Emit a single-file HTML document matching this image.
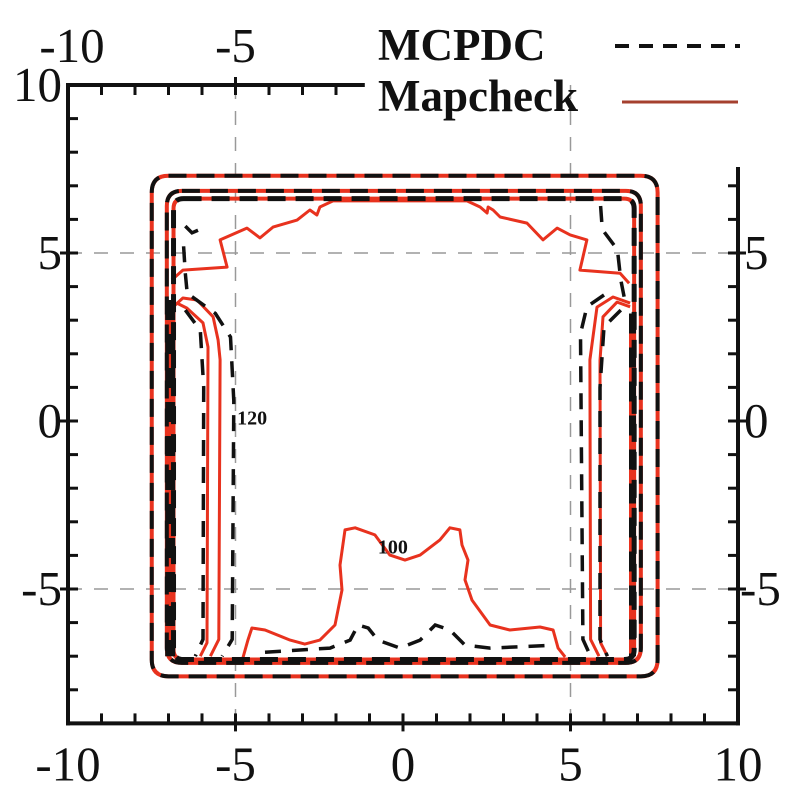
<!DOCTYPE html>
<html><head><meta charset="utf-8"><style>
html,body{margin:0;padding:0;background:#fff;}
svg{display:block;}
text{font-family:"Liberation Serif",serif;fill:#111;}
</style></head><body>
<svg id="chart" width="800" height="800" viewBox="0 0 800 800" xmlns="http://www.w3.org/2000/svg">
<g id="grid"></g><g id="series"></g><g id="axes"></g><g id="labels"></g>
<g>
<text x="378" y="60" font-size="45" font-weight="bold">MCPDC</text>
<line x1="615" y1="46" x2="740" y2="46" stroke="#111" stroke-width="4" stroke-dasharray="14,10"/>
<text x="378" y="111" font-size="45" font-weight="bold">Mapcheck</text>
<line x1="622" y1="102" x2="738" y2="102" stroke="#a5402f" stroke-width="3"/>
</g>
</svg>
<script>
// axis ranges
const xTicks = [-10,-5,0,5,10];
const yTicksLeft = [10,5,0,-5];
const yTicksRight = [5,0,-5];
const gridX = [-5,5];
const gridY = [5,-5];
// rounded rectangular contour levels [xmin,xmax,ymin,ymax,radius]
const boxes = [[-7.5,7.6,-7.6,7.3,0.5],[-7.05,7.1,-7.2,6.85,0.45],[-6.85,6.9,-7.1,6.62,0.3]];
// Mapcheck irregular contours
const redTop = [[-6.9,4.2],[-6.57,4.49],[-5.25,4.58],[-5.46,5.39],[-4.66,5.74],[-4.27,5.45],[-3.88,5.77],[-3.16,5.98],[-2.78,6.28],[-2.57,6.13],[-2.48,6.37],[-2.09,6.55],[1.91,6.55],[2.30,6.37],[2.51,6.19],[2.54,6.37],[2.69,6.28],[2.90,6.07],[3.70,5.89],[4.18,5.39],[4.60,5.74],[4.99,5.54],[5.49,5.39],[5.28,4.49],[6.48,4.40],[6.75,4.1]];
const redBottom = [[-4.78,-7.05],[-4.63,-6.52],[-4.51,-6.16],[-4.12,-6.22],[-3.37,-6.52],[-2.93,-6.64],[-2.48,-6.52],[-2.03,-6.07],[-1.82,-5.03],[-1.88,-4.29],[-1.73,-3.24],[-1.43,-3.18],[-0.84,-3.39],[-0.39,-3.99],[0.06,-4.14],[0.51,-3.99],[1.10,-3.54],[1.40,-3.18],[1.70,-3.24],[1.76,-3.69],[1.94,-4.14],[1.85,-4.73],[2.06,-5.33],[2.60,-6.07],[3.19,-6.22],[4.09,-6.13],[4.48,-6.22],[4.63,-6.76],[4.84,-7.02]];
const redLeftA = [[-6.87,3.39],[-6.57,3.66],[-6.15,3.6],[-5.67,3.1],[-5.52,2.41],[-5.46,1.82],[-5.5,-6.5],[-5.75,-7.0]];
const redLeftB = [[-6.75,3.51],[-6.45,3.36],[-5.97,2.92],[-5.82,2.2],[-5.85,-6.6],[-6.05,-7.0]];
const redRightA = [[6.78,3.51],[6.27,3.69],[5.79,3.39],[5.58,1.82],[5.6,-6.5],[5.85,-7.0]];
const redRightB = [[6.78,3.4],[6.39,3.54],[5.97,3.1],[5.88,1.8],[5.9,-6.6],[6.1,-7.0]];
// MCPDC irregular contours
const blkBottom = [[-4.12,-6.88],[-2.18,-6.76],[-1.58,-6.52],[-1.34,-6.07],[-1.04,-6.16],[-0.75,-6.52],[-0.09,-6.76],[0.51,-6.52],[0.96,-6.07],[1.40,-6.22],[1.85,-6.67],[2.60,-6.76],[4.54,-6.67]];
const blkLeftA = [[-6.3,3.7],[-5.6,3.2],[-5.15,2.5],[-5.05,0.6],[-5.1,-6.5],[-5.4,-7.0]];
const blkLeftB = [[-6.5,3.3],[-6.05,2.7],[-5.95,1.0],[-5.97,-6.5],[-6.2,-7.0]];
const blkRightA = [[6.0,3.75],[5.49,3.4],[5.3,2.6],[5.37,-6.5],[5.6,-7.0]];
const blkRightB = [[6.5,3.3],[6.0,2.8],[5.88,1.0],[5.88,-6.5],[6.1,-7.0]];
const blkTopLeft = [[-6.5,5.8],[-6.3,5.6],[-5.95,5.75]];
const blkLeftEdge = [[-6.55,5.2],[-6.5,4.4],[-6.45,3.9]];
const blkTopRight = [[5.9,6.4],[5.95,5.7],[6.4,5.1],[6.5,4.2],[6.6,3.7]];
const bandLeft = [[-6.95,3.6],[-6.95,-7.0]];
const bandRight = [[6.85,3.2],[6.85,-7.0]];

const X = v => 403 + 33.5*v;
const Y = v => 421 - 33.6*v;
const NS = 'http://www.w3.org/2000/svg';
function mk(tag, parent, attrs){const e=document.createElementNS(NS,tag);for(const k in attrs)e.setAttribute(k,attrs[k]);parent.appendChild(e);return e;}
const gG=document.getElementById('grid'), gS=document.getElementById('series'), gA=document.getElementById('axes'), gL=document.getElementById('labels');

gridX.forEach(v=>{const l=mk('line',gG,{x1:X(v),x2:X(v),y1:Y(10),y2:Y(-9),stroke:'#999','stroke-width':1.5,'stroke-dasharray':'14,12'});

});
gridY.forEach(v=>{const l=mk('line',gG,{x1:X(-10),x2:X(10),y1:Y(v),y2:Y(v),stroke:'#999','stroke-width':1.5,'stroke-dasharray':'14,12'});

});

function boxPath(b){const x0=X(b[0]),x1=X(b[1]),y0=Y(b[3]),y1=Y(b[2]),r=b[4]*33.5;
return `M${x0+r},${y0}H${x1-r}Q${x1},${y0} ${x1},${y0+r}V${y1-r}Q${x1},${y1} ${x1-r},${y1}H${x0+r}Q${x0},${y1} ${x0},${y1-r}V${y0+r}Q${x0},${y0} ${x0+r},${y0}Z`;}
function polyPath(p){return p.map((q,i)=>(i?'L':'M')+X(q[0]).toFixed(1)+','+Y(q[1]).toFixed(1)).join('');}
const RED='#e8321e';
boxes.forEach(b=>{const e=mk('path',gS,{d:boxPath(b),fill:'none',stroke:RED,'stroke-width':4});

});
[redTop,redBottom,redLeftA,redLeftB,redRightA,redRightB].forEach(p=>{const e=mk('path',gS,{d:polyPath(p),fill:'none',stroke:RED,'stroke-width':3,'stroke-linejoin':'round'});

});
[bandLeft,bandRight].forEach(p=>{const e=mk('path',gS,{d:polyPath(p),fill:'none',stroke:RED,'stroke-width':p===bandLeft?10:7});

});
boxes.forEach((b,i)=>{const e=mk('path',gS,{d:boxPath(b),fill:'none',stroke:'#111','stroke-width':i==2?5:4,'stroke-dasharray':'18,10'});

});
[blkBottom,blkLeftA,blkLeftB,blkRightA,blkRightB,blkTopLeft,blkLeftEdge,blkTopRight].forEach(p=>{const e=mk('path',gS,{d:polyPath(p),fill:'none',stroke:'#111','stroke-width':3.5,'stroke-dasharray':'16,11'});

});
[bandLeft,bandRight].forEach(p=>{const e=mk('path',gS,{d:polyPath(p),fill:'none',stroke:'#111','stroke-width':p===bandLeft?10:7,'stroke-dasharray':'20,14'});

});
const lab1=mk('text',gL,{x:X(-4.95),y:Y(-0.1),'font-size':20,'font-weight':'bold'});lab1.textContent='120';


const lab2=mk('text',gL,{x:X(-0.75),y:Y(-3.95),'font-size':20,'font-weight':'bold'});lab2.textContent='100';



const AX={stroke:'#111','stroke-width':4,'stroke-linecap':'square'};
function axLine(x1,y1,x2,y2,name){const e=mk('line',gA,Object.assign({x1,y1,x2,y2},AX));

}
axLine(X(-10),Y(10),X(-10),Y(-9),'left-axis');
axLine(X(-10),Y(-9),X(10),Y(-9),'bottom-axis');
axLine(X(10),Y(7.5),X(10),Y(-9),'right-axis');
axLine(X(-10),Y(10),X(-1.2),Y(10),'top-axis');
function tick(x1,y1,x2,y2){const e=mk('line',gA,{x1,y1,x2,y2,stroke:'#111','stroke-width':3});

}
for(let v=-9;v<=9;v++){const maj=v%5===0;tick(X(v),Y(-9)+(maj?8:0),X(v),Y(-9)-10);}
for(let v=-9;v<=-2;v++){const maj=v%5===0;tick(X(v),Y(10)-(maj?8:0),X(v),Y(10)+10);}
for(let v=-8;v<=9;v++){const maj=v%5===0;tick(X(-10)-(maj?8:0),Y(v),X(-10)+10,Y(v));}
for(let v=-8;v<=7;v++){const maj=v%5===0;tick(X(10)+(maj?8:0),Y(v),X(10)-10,Y(v));}
function lbl(txt,x,y,anchor,name){const e=mk('text',gL,{x,y,'font-size':49,'text-anchor':anchor});e.textContent=txt;

}
xTicks.forEach(v=>lbl(v<0?'-'+Math.abs(v):String(v),X(v),Y(-9)+57,'middle','x-tick-label'));
xTicks.filter(v=>v<0).forEach(v=>lbl('-'+Math.abs(v),X(v)+(v===-10?4:0),62,'middle','top-x-tick-label'));
yTicksLeft.forEach(v=>lbl(v<0?'-'+Math.abs(v):String(v),X(-10)-6,Y(v)+16,'end','y-tick-label'));
yTicksRight.forEach(v=>lbl(v<0?'-'+Math.abs(v):String(v),X(10)+(v<0?2:6),Y(v)+16,'start','right-y-tick-label'));
</script>
</body></html>
